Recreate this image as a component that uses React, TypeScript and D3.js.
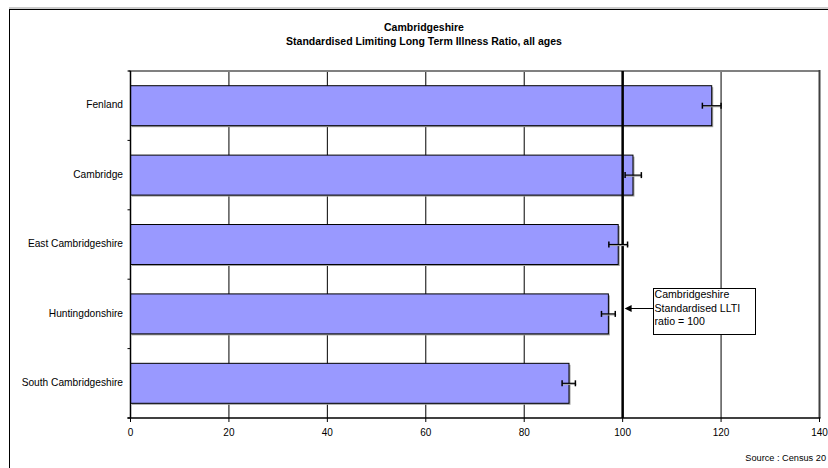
import React from "react";
import * as d3 from "d3";

const categories = ["Fenland", "Cambridge", "East Cambridgeshire", "Huntingdonshire", "South Cambridgeshire"];
const ratios = [118.1, 102.1, 99.1, 97.1, 89.1];
const lowerCI = [116.2, 100.5, 97.2, 95.7, 87.7];
const upperCI = [120.0, 103.8, 101.0, 98.5, 90.4];
const xTicks = [0, 20, 40, 60, 80, 100, 120, 140];
const referenceValue = 100;
const titleLines = ["Cambridgeshire", "Standardised Limiting Long Term Illness Ratio, all ages"];
const noteLines = ["Cambridgeshire", "Standardised LLTI", "ratio = 100"];
const sourceText = "Source : Census 20";

const W = 828;
const H = 468;
const plot = { left: 130.5, right: 819.5, top: 71, bottom: 418 };
const FONT = "Arial, 'Liberation Sans', Helvetica, sans-serif";

export default function App() {
  const x = d3.scaleLinear().domain([0, 140]).range([plot.left, plot.right]);
  const y = d3
    .scaleBand<string>()
    .domain(categories)
    .range([plot.top, plot.bottom])
    .paddingInner(0.424)
    .paddingOuter(0.212);
  const step = y.step();
  const bw = y.bandwidth();
  const bandEdges = d3.range(categories.length + 1).map((i) => plot.top + i * step);

  const refX = x(referenceValue);
  const box = { x: 653.5, y: 288.5, w: 102, h: 46 };
  const arrowY = 308.5;

  return (
    <svg
      width={W}
      height={H}
      style={{ position: "absolute", left: 0, top: 0, background: "#fff" }}
      fontFamily={FONT}
    >
      {/* outer frame */}
      <line x1={9} x2={W} y1={8} y2={8} stroke="#999" strokeWidth={1} />
      <rect x={9.5} y={9.5} width={W + 20} height={H + 20} fill="none" stroke="#000" strokeWidth={1} />

      {/* title */}
      {titleLines.map((t, i) => (
        <text
          key={i}
          x={424}
          y={28.5 + i * 13.5}
          textAnchor="middle"
          dominantBaseline="middle"
          fontSize={10.5}
          fontWeight="bold"
          fill="#000"
        >
          {t}
        </text>
      ))}

      {/* gridlines */}
      {xTicks
        .filter((t) => t > 0 && t < 140)
        .map((t) => (
          <line key={t} x1={x(t)} x2={x(t)} y1={plot.top} y2={plot.bottom} stroke="#000" strokeWidth={1} />
        ))}

      {/* plot border top/right */}
      <line x1={plot.left - 2} x2={plot.right} y1={plot.top} y2={plot.top} stroke="#808080" strokeWidth={2} />
      <line x1={plot.right} x2={plot.right} y1={plot.top - 1} y2={plot.bottom} stroke="#404040" strokeWidth={2} />

      {/* bars */}
      {categories.map((c, i) => {
        const y0 = y(c)!;
        return (
          <g key={c}>
            <rect
              x={x(0) + 1.5}
              y={y0 + 1.5}
              width={x(ratios[i]) - x(0)}
              height={bw}
              fill="#a0a0a0"
            />
            <rect
              x={x(0)}
              y={y0}
              width={x(ratios[i]) - x(0)}
              height={bw}
              fill="#9999ff"
              stroke="#000"
              strokeWidth={1}
            />
          </g>
        );
      })}

      {/* reference line */}
      <line x1={refX} x2={refX} y1={plot.top} y2={plot.bottom} stroke="#000" strokeWidth={2.5} />

      {/* error bars */}
      {categories.map((c, i) => {
        const cy = y(c)! + bw / 2;
        const x1 = x(lowerCI[i]);
        const x2 = x(upperCI[i]);
        return (
          <g key={c} stroke="#000" strokeWidth={1.2}>
            <line x1={x1 + 1} x2={x2 + 1} y1={cy + 1} y2={cy + 1} stroke="#aaa" />
            <line x1={x1} x2={x2} y1={cy} y2={cy} />
            <line x1={x1} x2={x1} y1={cy - 3} y2={cy + 3} strokeWidth={1.5} />
            <line x1={x2} x2={x2} y1={cy - 3} y2={cy + 3} strokeWidth={1.5} />
          </g>
        );
      })}

      {/* y axis */}
      <line x1={plot.left} x2={plot.left} y1={plot.top} y2={plot.bottom} stroke="#000" strokeWidth={1.5} />
      {bandEdges.map((e, i) => (
        <line key={i} x1={plot.left - 3} x2={plot.left} y1={e} y2={e} stroke="#000" strokeWidth={1} />
      ))}
      {categories.map((c) => (
        <text
          key={c}
          x={123}
          y={y(c)! + bw / 2}
          textAnchor="end"
          dominantBaseline="middle"
          fontSize={10.2}
          fill="#000"
        >
          {c}
        </text>
      ))}

      {/* x axis */}
      <line x1={plot.left - 3} x2={plot.right + 1} y1={plot.bottom} y2={plot.bottom} stroke="#000" strokeWidth={1.5} />
      {xTicks.map((t) => (
        <g key={t}>
          <line x1={x(t)} x2={x(t)} y1={plot.bottom} y2={plot.bottom + 4} stroke="#000" strokeWidth={1} />
          <text x={x(t)} y={433.5} textAnchor="middle" dominantBaseline="middle" fontSize={10} fill="#000">
            {t}
          </text>
        </g>
      ))}

      {/* annotation */}
      <rect x={box.x} y={box.y} width={box.w} height={box.h} fill="#fff" stroke="#000" strokeWidth={1} />
      {noteLines.map((t, i) => (
        <text key={i} x={box.x + 1} y={295.5 + i * 13.6} dominantBaseline="middle" fontSize={10.6} fill="#000">
          {t}
        </text>
      ))}
      <line x1={box.x} x2={refX + 8} y1={arrowY} y2={arrowY} stroke="#000" strokeWidth={1} />
      <path
        d={`M${refX + 2},${arrowY} L${refX + 9},${arrowY - 3.5} L${refX + 9},${arrowY + 3.5} Z`}
        fill="#000"
      />

      {/* source */}
      <text x={826} y={459} textAnchor="end" dominantBaseline="middle" fontSize={9.2} fill="#000">
        {sourceText}
      </text>
    </svg>
  );
}
